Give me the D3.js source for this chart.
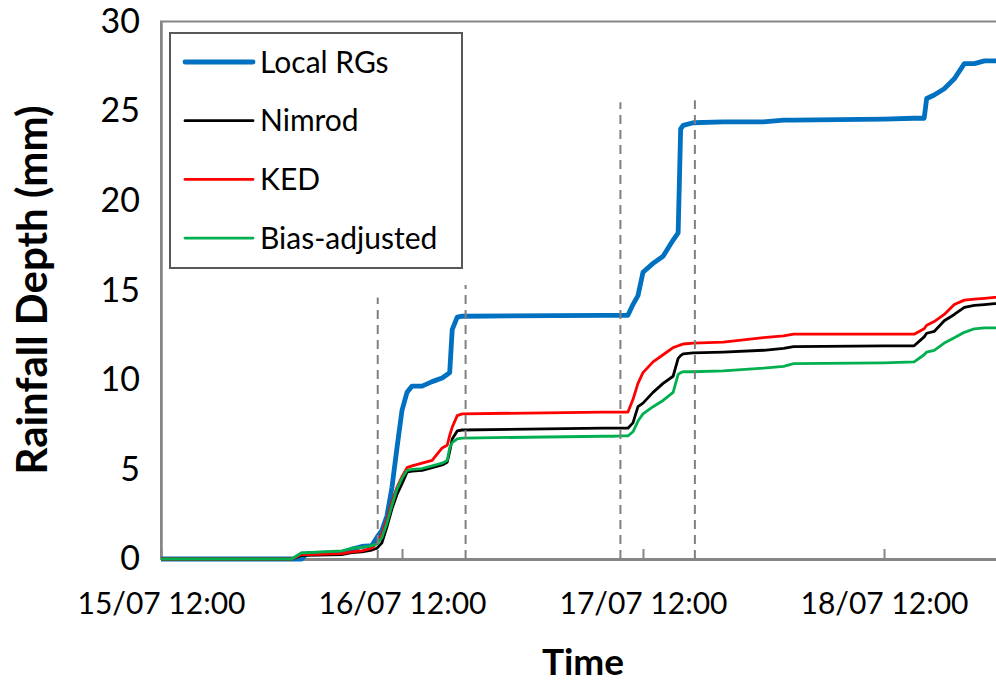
<!DOCTYPE html>
<html>
<head>
    <script src="https://d3js.org/d3.v7.min.js"></script>
    <style>
        body { margin: 0; background-color: #ffffff; }
        text { font-family: Lato, "Open Sans", sans-serif; }
    </style>
</head>
<body>
    <svg id="canvas" width="996" height="686"></svg>
    <script>
        const svg = d3.select('#canvas');
        const WIDTH = 996;
        const HEIGHT = 686;
        const PLOT_LEFT = 161;
        const PLOT_TOP = 21.5;
        const PLOT_BOTTOM = 559;
        const DAY_PX = 241;
        const AXIS_COLOUR = '#868686';

        //time stamps shared by all four series (dd/mm hh:mm)
        const times = [
            '15/07 12:00', '16/07 00:00', '16/07 01:00', '16/07 02:00', '16/07 02:30',
            '16/07 06:00', '16/07 07:00', '16/07 08:00', '16/07 09:00', '16/07 09:30',
            '16/07 10:00', '16/07 10:30', '16/07 11:00', '16/07 11:30', '16/07 12:00',
            '16/07 12:30', '16/07 13:00', '16/07 14:00', '16/07 15:00', '16/07 16:00',
            '16/07 16:30', '16/07 16:45', '16/07 17:00', '16/07 17:30', '16/07 18:00',
            '17/07 08:00', '17/07 09:00', '17/07 10:00', '17/07 10:30', '17/07 11:00',
            '17/07 11:30', '17/07 12:00', '17/07 13:00', '17/07 14:00', '17/07 15:00',
            '17/07 15:30', '17/07 15:45', '17/07 16:00', '17/07 17:00', '17/07 20:00',
            '18/07 00:00', '18/07 02:00', '18/07 03:00', '18/07 12:00', '18/07 15:00',
            '18/07 16:00', '18/07 16:15', '18/07 17:00', '18/07 18:00', '18/07 19:00',
            '18/07 20:00', '18/07 21:00', '18/07 22:00', '18/07 23:00', '19/07 00:00'
        ];

        //cumulative rainfall depth (mm)
        const localRGs = [0, 0, 0, 0, 0.3, 0.35, 0.55, 0.7, 0.75, 1.2, 1.6, 2.4, 4.0, 6.2, 8.3, 9.3, 9.65, 9.65, 9.9, 10.1,
            10.3, 10.4, 12.8, 13.5, 13.55, 13.6, 13.6, 13.6, 13.6, 14.2, 14.7, 16.0, 16.5, 16.9, 17.8, 18.2, 24.0, 24.2,
            24.35, 24.4, 24.4, 24.5, 24.5, 24.55, 24.6, 24.6, 25.7, 25.9, 26.25, 26.8, 27.65, 27.65, 27.8, 27.8, 27.8];
        const nimrod = [0, 0, 0, 0.2, 0.2, 0.25, 0.35, 0.4, 0.5, 0.6, 0.9, 1.8, 2.8, 3.6, 4.2, 4.85, 4.9, 4.95, 5.1, 5.25,
            5.4, 6.0, 6.7, 7.15, 7.2, 7.3, 7.3, 7.3, 7.3, 7.6, 8.5, 8.7, 9.3, 9.8, 10.2, 11.2, 11.35, 11.45, 11.5, 11.55,
            11.65, 11.75, 11.85, 11.9, 11.9, 12.4, 12.6, 12.7, 13.3, 13.65, 14.05, 14.15, 14.2, 14.25, 14.25];
        const ked = [0, 0, 0, 0.25, 0.25, 0.3, 0.4, 0.45, 0.6, 0.9, 1.4, 2.2, 3.2, 4.0, 4.6, 5.1, 5.2, 5.35, 5.5, 6.2,
            6.35, 6.9, 7.35, 8.0, 8.1, 8.2, 8.2, 8.2, 8.2, 8.9, 9.8, 10.4, 11.0, 11.4, 11.8, 11.9, 11.95, 12.0, 12.05, 12.1,
            12.35, 12.45, 12.55, 12.55, 12.55, 12.85, 13.05, 13.25, 13.65, 14.2, 14.45, 14.5, 14.55, 14.6, 14.6];
        const biasAdjusted = [0, 0, 0, 0.35, 0.35, 0.45, 0.6, 0.65, 0.75, 0.85, 1.2, 2.0, 3.0, 3.9, 4.5, 4.95, 5.0, 5.05,
            5.2, 5.35, 5.5, 6.2, 6.5, 6.7, 6.75, 6.85, 6.85, 6.87, 6.87, 7.1, 7.7, 8.1, 8.5, 8.85, 9.3, 10.3, 10.4, 10.45,
            10.45, 10.5, 10.65, 10.75, 10.9, 10.95, 11.0, 11.4, 11.55, 11.65, 12.05, 12.35, 12.65, 12.85, 12.9, 12.9, 12.9];

        //event boundaries drawn as dashed verticals
        const eventTimes = ['16/07 09:35', '16/07 18:20', '17/07 09:45', '17/07 17:10'];
        const eventTops = [14.6, 15.3, 25.5, 25.6];

        //axis ticks
        const xTicks = ['15/07 12:00', '16/07 12:00', '17/07 12:00', '18/07 12:00'];
        const yTicks = [0, 5, 10, 15, 20, 25, 30];

        const seriesNames = ['Local RGs', 'Nimrod', 'KED', 'Bias-adjusted'];
        const seriesValues = [localRGs, nimrod, ked, biasAdjusted];
        const seriesColours = ['#0070C0', '#000000', '#FF0000', '#00B050'];
        const seriesWidths = [4.8, 2.8, 2.8, 2.8];

        const parseTime = d3.timeParse('%d/%m %H:%M');
        const formatTime = d3.timeFormat('%d/%m %H:%M');
        const dates = times.map(parseTime);

        const x = d3.scaleTime()
            .domain([parseTime('15/07 12:00'), parseTime('19/07 12:00')])
            .range([PLOT_LEFT, PLOT_LEFT + 4 * DAY_PX]);
        const y = d3.scaleLinear()
            .domain([0, 30])
            .range([PLOT_BOTTOM, PLOT_TOP]);

        //plot area frame
        svg.append('rect')
            .attr('x', PLOT_LEFT)
            .attr('y', PLOT_TOP)
            .attr('width', 4 * DAY_PX)
            .attr('height', PLOT_BOTTOM - PLOT_TOP)
            .attr('fill', 'none')
            .attr('stroke', AXIS_COLOUR)
            .attr('stroke-width', 2);

        //y axis, labels only
        const yAxis = svg.append('g')
            .attr('transform', `translate(${PLOT_LEFT},0)`)
            .call(d3.axisLeft(y).tickValues(yTicks).tickSize(0).tickPadding(21));
        yAxis.select('.domain').attr('stroke', AXIS_COLOUR).attr('stroke-width', 2.5);
        yAxis.selectAll('text').attr('font-size', 34).attr('fill', '#000');

        //x axis with short inward ticks
        const xAxis = svg.append('g')
            .attr('transform', `translate(0,${PLOT_BOTTOM})`)
            .call(d3.axisBottom(x).tickValues(xTicks.map(parseTime)).tickFormat(formatTime).tickSizeInner(-10).tickSizeOuter(0).tickPadding(34));
        xAxis.select('.domain').attr('stroke', AXIS_COLOUR).attr('stroke-width', 3);
        xAxis.selectAll('line').attr('stroke', AXIS_COLOUR).attr('stroke-width', 2);
        xAxis.selectAll('text').attr('font-size', 30).attr('fill', '#000');

        //axis titles
        svg.append('text')
            .attr('transform', `translate(47,290) rotate(-90)`)
            .attr('text-anchor', 'middle')
            .attr('font-size', 42)
            .attr('font-weight', 'bold')
            .text('Rainfall Depth (mm)');
        svg.append('text')
            .attr('x', 583)
            .attr('y', 675)
            .attr('text-anchor', 'middle')
            .attr('font-size', 37)
            .attr('font-weight', 'bold')
            .text('Time');

        //clip the series to the plot area
        svg.append('clipPath')
            .attr('id', 'plot-clip')
            .append('rect')
            .attr('x', PLOT_LEFT)
            .attr('y', 0)
            .attr('width', WIDTH - PLOT_LEFT)
            .attr('height', HEIGHT);

        const line = d3.line()
            .x((d, i) => x(dates[i]))
            .y(d => y(d));

        svg.append('g')
            .attr('clip-path', 'url(#plot-clip)')
            .selectAll('path')
            .data(seriesValues)
            .join('path')
            .attr('d', d => line(d))
            .attr('fill', 'none')
            .attr('stroke', (d, i) => seriesColours[i])
            .attr('stroke-width', (d, i) => seriesWidths[i])
            .attr('stroke-linejoin', 'round')
            .attr('stroke-linecap', 'round');

        //dashed event lines
        svg.append('g')
            .selectAll('line')
            .data(eventTimes)
            .join('line')
            .attr('x1', d => x(parseTime(d)))
            .attr('x2', d => x(parseTime(d)))
            .attr('y1', y(0))
            .attr('y2', (d, i) => y(eventTops[i]))
            .attr('stroke', '#808080')
            .attr('stroke-width', 2)
            .attr('stroke-dasharray', '9,6');

        //legend
        const legend = svg.append('g');
        legend.append('rect')
            .attr('x', 170)
            .attr('y', 33)
            .attr('width', 292)
            .attr('height', 235)
            .attr('fill', '#fff')
            .attr('stroke', '#595959')
            .attr('stroke-width', 2);
        const rows = legend.selectAll('g.row')
            .data(seriesNames)
            .join('g')
            .attr('class', 'row')
            .attr('transform', (d, i) => `translate(0,${62 + i * 58.7})`);
        rows.append('line')
            .attr('x1', 185)
            .attr('x2', 253)
            .attr('stroke', (d, i) => seriesColours[i])
            .attr('stroke-width', (d, i) => seriesWidths[i])
            .attr('stroke-linecap', 'round');
        rows.append('text')
            .attr('x', 260)
            .attr('dy', '0.35em')
            .attr('font-size', 30)
            .text(d => d);
    </script>
</body>
</html>
